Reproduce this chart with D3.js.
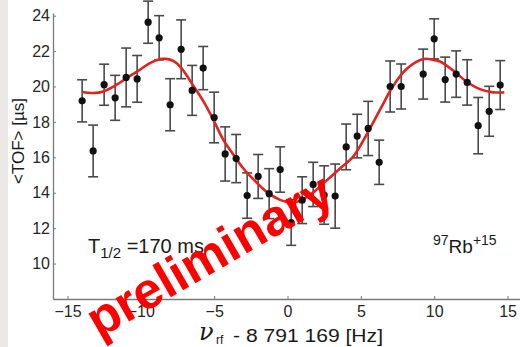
<!DOCTYPE html>
<html><head><meta charset="utf-8">
<script src="https://cdn.jsdelivr.net/npm/d3@7"></script>
<style>body{margin:0;background:#fff}svg{display:block}</style>
</head><body>
<svg id="c" width="520" height="347"></svg>
<script>
// measured frequency offsets [Hz]
const freq = [-14, -13.25, -12.5, -11.75, -11, -10.25, -9.5, -8.75, -8, -7.25, -6.5, -5.75, -5, -4.25, -3.5, -2.75, -2, -1.25, -0.5, 0.25, 1, 1.75, 2.5, 3.25, 4, 4.75, 5.5, 6.25, 7, 7.75, 9.25, 10, 10.75, 11.5, 12.25, 13, 13.75, 14.5];
// mean time of flight [µs]
const tof = [19.19, 16.36, 20.10, 19.36, 20.51, 20.43, 23.63, 22.75, 18.97, 22.10, 19.78, 21.04, 18.25, 16.19, 15.93, 13.84, 14.92, 13.95, 15.31, 12.32, 13.58, 14.47, 13.87, 13.81, 16.59, 17.20, 17.63, 15.72, 20.00, 20.00, 20.70, 22.69, 20.39, 20.70, 20.23, 17.79, 18.60, 20.08];
// uncertainty [µs]
const tofErr = [1.19, 1.46, 1.16, 1.27, 1.66, 1.32, 1.19, 1.25, 1.47, 1.66, 1.41, 1.22, 1.43, 1.53, 1.36, 1.28, 1.24, 1.41, 1.28, 1.29, 1.32, 1.25, 1.65, 1.81, 1.29, 1.23, 1.53, 1.25, 1.44, 1.27, 1.41, 1.13, 1.27, 1.31, 1.28, 1.59, 1.41, 1.38];
// fitted resonance curve
const fitX = [-14.0, -13.24, -12.56, -11.65, -10.96, -10.24, -9.38, -8.69, -8.28, -7.79, -7.19, -6.42, -5.74, -5.06, -4.38, -3.70, -3.01, -2.10, -1.42, -0.51, 0.17, 0.85, 1.76, 2.67, 3.58, 4.49, 5.40, 6.31, 7.21, 8.13, 9.26, 9.94, 10.40, 11.30, 12.22, 13.12, 14.03, 14.78];
const fitY = [19.69, 19.63, 19.72, 20.10, 20.48, 20.85, 21.32, 21.55, 21.56, 21.45, 21.00, 20.04, 19.17, 18.13, 17.00, 16.16, 15.37, 14.57, 14.05, 13.60, 13.46, 13.54, 14.02, 14.70, 15.37, 16.05, 17.29, 18.69, 20.04, 21.00, 21.55, 21.51, 21.41, 20.90, 20.27, 19.85, 19.67, 19.67];
const xTicks = [-15, -10, -5, 0, 5, 10, 15];
const yTicks = [10, 12, 14, 16, 18, 20, 22, 24];

const svg = d3.select('#c');
svg.append('rect').attr('x',0).attr('y',0).attr('width',8).attr('height',347).attr('fill','#ebe8e5');

const x = d3.scaleLinear().domain([-16, 16]).range([52.8, 522.2]);
const y = d3.scaleLinear().domain([8, 24.15]).range([299, 13]);
const font = "'Liberation Sans', Arial, sans-serif";

const gx = svg.append('g').attr('transform','translate(0,299)')
  .call(d3.axisBottom(x).tickValues(xTicks).tickSizeInner(-3).tickSizeOuter(0).tickPadding(7));
const gy = svg.append('g').attr('transform','translate(53,0)')
  .call(d3.axisLeft(y).tickValues(yTicks).tickSizeInner(-3).tickSizeOuter(0).tickPadding(3));
[gx, gy].forEach(g => {
  g.select('.domain').attr('stroke','#7a7a7a').attr('stroke-width',1.3);
  g.selectAll('.tick line').attr('stroke','#7a7a7a');
  g.selectAll('.tick text').attr('fill','#262626').style('font-family',font).style('font-size','16px');
});

// error bars
const eb = svg.append('g').attr('stroke','#4a4a4a').attr('stroke-width',1.6);
freq.forEach((f,i) => {
  const cx = x(f), y1 = y(tof[i]+tofErr[i]), y2 = y(tof[i]-tofErr[i]);
  eb.append('line').attr('x1',cx).attr('x2',cx).attr('y1',y1).attr('y2',y2);
  eb.append('line').attr('x1',cx-5).attr('x2',cx+5).attr('y1',y1).attr('y2',y1);
  eb.append('line').attr('x1',cx-5).attr('x2',cx+5).attr('y1',y2).attr('y2',y2);
});

// fit
const line = d3.line().x(d=>x(d[0])).y(d=>y(d[1])).curve(d3.curveCatmullRom);
svg.append('path').datum(fitX.map((v,i)=>[v,fitY[i]])).attr('d',line)
  .attr('fill','none').attr('stroke','#e3221f').attr('stroke-width',2.6);

// points
svg.append('g').selectAll('circle').data(freq).join('circle')
  .attr('cx',(d)=>x(d)).attr('cy',(d,i)=>y(tof[i])).attr('r',3.6).attr('fill','#111');

// annotations
const t1 = svg.append('text').attr('x',88).attr('y',253).attr('fill','#1a1a1a')
  .style('font-family',font).style('font-size','20px');
t1.append('tspan').text('T');
t1.append('tspan').attr('dy',5).style('font-size','15px').text('1/2');
t1.append('tspan').attr('dy',-5).text(' =170 ms');

const t2 = svg.append('text').attr('x',433).attr('y',253).attr('fill','#1a1a1a')
  .style('font-family',font).style('font-size','19px');
t2.append('tspan').attr('dy',-8).style('font-size','14px').text('97');
t2.append('tspan').attr('dy',8).text('Rb');
t2.append('tspan').attr('dy',-8).style('font-size','14px').text('+15');

// axis labels
svg.append('text').attr('transform','translate(24,141) rotate(-90)').attr('text-anchor','middle')
  .attr('fill','#1a1a1a').style('font-family',font).style('font-size','17px').text('<TOF> [µs]');

svg.append('text').attr('x',199).attr('y',340).attr('fill','#1a1a1a')
  .style('font-family',"'DejaVu Serif', serif").style('font-style','italic').style('font-size','24px').text('ν');
svg.append('text').attr('x',216).attr('y',344).attr('fill','#1a1a1a')
  .style('font-family',font).style('font-size','12px').text('rf');
svg.append('text').attr('x',233).attr('y',342).attr('fill','#1a1a1a')
  .attr('textLength',150).attr('lengthAdjust','spacingAndGlyphs')
  .style('font-family',font).style('font-size','18px').text('- 8 791 169 [Hz]');

// watermark
svg.append('text').attr('transform','translate(218,270) rotate(-30)').attr('text-anchor','middle')
  .attr('fill','#ff0000').style('font-family',font).style('font-weight','bold').style('font-size','51px')
  .text('preliminary');
</script>
</body></html>
